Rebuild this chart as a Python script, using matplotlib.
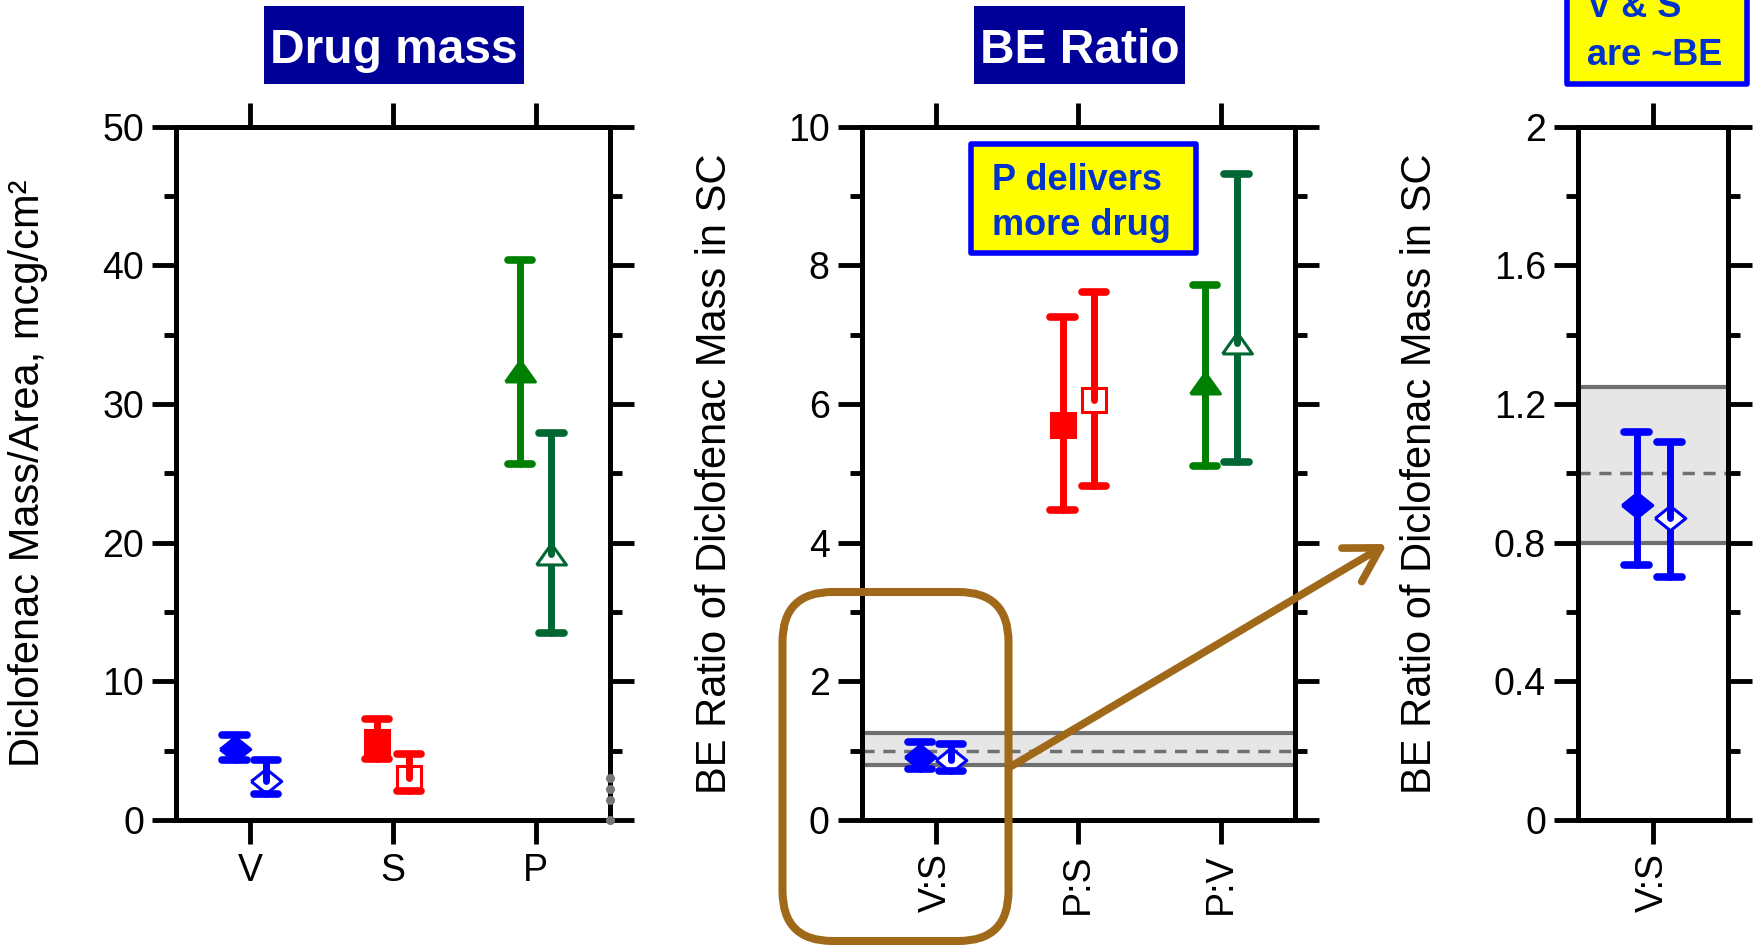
import numpy as np
import matplotlib
matplotlib.use("Agg")
import matplotlib.pyplot as plt
from matplotlib.patches import Rectangle, FancyBboxPatch, FancyArrowPatch
from matplotlib.ticker import MultipleLocator, FormatStrFormatter

plt.rcParams['font.family'] = ['Liberation Sans', 'DejaVu Sans']

# diclofenac mass per area (mcg/cm2): solid and open symbols, mean with lo/hi limits
mass_cats = ['V', 'S', 'P']
mass_solid = [5.1, 5.65, 32.4]
mass_solid_lo = [4.3, 4.4, 25.7]
mass_solid_hi = [6.1, 7.3, 40.4]
mass_open = [2.8, 3.0, 19.2]
mass_open_lo = [1.85, 2.1, 13.5]
mass_open_hi = [4.3, 4.75, 27.9]

# BE ratios of mass in SC
ratio_cats = ['V:S', 'P:S', 'P:V']
ratio_solid = [0.91, 5.70, 6.30]
ratio_solid_lo = [0.735, 4.47, 5.11]
ratio_solid_hi = [1.12, 7.25, 7.71]
ratio_open = [0.87, 6.06, 6.88]
ratio_open_lo = [0.70, 4.82, 5.16]
ratio_open_hi = [1.09, 7.61, 9.32]

be_low, be_mid, be_high = 0.8, 1.0, 1.25

solid_colors = ['#0000ff', '#ff0000', '#008000']
open_colors = ['#0000ff', '#ff0000', '#006633']

diamond = [(-1, 0), (0, 0.8), (1, 0), (0, -0.8), (-1, 0)]
triangle = [(-1, -0.7), (1, -0.7), (0, 0.7), (-1, -0.7)]
markers = [(diamond, 22), ('s', 17.5), (triangle, 21.5)]

grey_dots = [0, 1.45, 2.25, 3.05]

BROWN = '#a0691a'
NAVY = '#000099'
TXT_BLUE = '#0033cc'

W, H = 1759, 947
fig = plt.figure(figsize=(W / 100, H / 100), dpi=100)


def px_axes(x0, x1, ytop=126.7, ybot=820):
    return fig.add_axes([x0 / W, (H - ybot) / H, (x1 - x0) / W, (ybot - ytop) / H])


def draw_point(ax, x, y, lo, hi, color, marker, ms, filled):
    cap = 0.085
    # lower half of the bar goes under the symbol, upper half over it
    ax.plot([x, x], [lo, y], color=color, lw=5, solid_capstyle='round', zorder=3)
    ax.plot([x, x], [y, hi], color=color, lw=5, solid_capstyle='round', zorder=5)
    for v in (lo, hi):
        ax.plot([x - cap, x + cap], [v, v], color=color, lw=5.5,
                solid_capstyle='round', zorder=5)
    ax.plot([x], [y], ls='none', marker=marker, ms=ms, mec=color,
            mfc=color if filled else 'white', mew=2.2, zorder=4)


def style_axis(ax, top, major, minor, cats, rot, xlim):
    ax.set_xlim(*xlim)
    ax.set_ylim(0, top)
    ax.yaxis.set_major_locator(MultipleLocator(major))
    ax.yaxis.set_minor_locator(MultipleLocator(minor))
    ax.yaxis.set_major_formatter(FormatStrFormatter('%g'))
    ax.set_xticks(np.arange(1, len(cats) + 1))
    ax.set_xticklabels(cats, rotation=rot)
    ax.tick_params(which='both', direction='out', width=3.5, top=True, right=True,
                   labeltop=False, labelright=False, labelsize=27)
    ax.tick_params(which='major', length=17)
    ax.tick_params(which='minor', length=8.5)
    ax.tick_params(axis='y', pad=6)
    ax.tick_params(axis='x', pad=7)
    for s in ax.spines.values():
        s.set_linewidth(3.6)


def be_band(ax):
    ax.axhspan(be_low, be_high, color='#e6e6e6', zorder=0, lw=0)
    for v in (be_low, be_high):
        ax.axhline(v, color='#707070', lw=3, zorder=1)
    ax.axhline(be_mid, color='#707070', lw=2.5, dashes=(3.5, 2.5), zorder=1)


# --- panel 1: drug mass
ax1 = px_axes(176, 610)
style_axis(ax1, 50, 10, 5, mass_cats, 0, (0.48, 3.52))
for i in range(3):
    m, ms = markers[i]
    draw_point(ax1, i + 1 - 0.11, mass_solid[i], mass_solid_lo[i], mass_solid_hi[i],
               solid_colors[i], m, ms, True)
    draw_point(ax1, i + 1 + 0.11, mass_open[i], mass_open_lo[i], mass_open_hi[i],
               open_colors[i], m, ms, False)
ax1.plot(np.ones(len(grey_dots)), grey_dots, ls='none', marker='o', ms=5.5,
         color='#777777', transform=ax1.get_yaxis_transform(), clip_on=False, zorder=6)

# --- panel 2: BE ratio
ax2 = px_axes(861.5, 1295)
style_axis(ax2, 10, 2, 1, ratio_cats, 90, (0.48, 3.52))
be_band(ax2)
for i in range(3):
    m, ms = markers[i]
    draw_point(ax2, i + 1 - 0.11, ratio_solid[i], ratio_solid_lo[i], ratio_solid_hi[i],
               solid_colors[i], m, ms, True)
    draw_point(ax2, i + 1 + 0.11, ratio_open[i], ratio_open_lo[i], ratio_open_hi[i],
               open_colors[i], m, ms, False)

# --- panel 3: V:S close up
ax3 = px_axes(1578, 1728)
style_axis(ax3, 2, 0.4, 0.2, ratio_cats[:1], 90, (0.5, 1.5))
be_band(ax3)
m, ms = markers[0]
draw_point(ax3, 1 - 0.11, ratio_solid[0], ratio_solid_lo[0], ratio_solid_hi[0],
           solid_colors[0], m, ms, True)
draw_point(ax3, 1 + 0.11, ratio_open[0], ratio_open_lo[0], ratio_open_hi[0],
           open_colors[0], m, ms, False)

# y labels
ylab_y = 1 - 473.5 / H
fig.text(28 / W, ylab_y, 'Diclofenac Mass/Area, mcg/cm\u00b2', rotation=90,
         ha='center', va='center', fontsize=30)
for xc in (715, 1420):
    fig.text(xc / W, ylab_y, 'BE Ratio of Diclofenac Mass in SC', rotation=90,
             ha='center', va='center', fontsize=30)


def px_rect(x0, y0, x1, y1, **kw):
    # pixel box (top-down) drawn in figure inches
    r = Rectangle((x0 / 100, (H - y1) / 100), (x1 - x0) / 100, (y1 - y0) / 100,
                  transform=fig.dpi_scale_trans, **kw)
    fig.add_artist(r)
    return r


def px_text(x, y, s, **kw):
    fig.text(x / W, 1 - y / H, s, **kw)


# title boxes
px_rect(264, 6, 524, 84, facecolor=NAVY, edgecolor='none')
px_text(394, 63, 'Drug mass', ha='center', va='baseline', color='white',
        fontsize=34.5, fontweight='bold')
px_rect(974, 6, 1185, 84, facecolor=NAVY, edgecolor='none')
px_text(1079.5, 63, 'BE Ratio', ha='center', va='baseline', color='white',
        fontsize=34.5, fontweight='bold')

# callouts
px_rect(971, 144, 1196, 253, facecolor='#ffff00', edgecolor='#0000ff', lw=4,
        joinstyle='round')
px_text(992, 190, 'P delivers', ha='left', va='baseline', color=TXT_BLUE,
        fontsize=26, fontweight='bold')
px_text(992, 235, 'more drug', ha='left', va='baseline', color=TXT_BLUE,
        fontsize=26, fontweight='bold')

px_rect(1567, -40, 1747, 84, facecolor='#ffff00', edgecolor='#0000ff', lw=4,
        joinstyle='round')
px_text(1587, 17, 'V & S', ha='left', va='baseline', color=TXT_BLUE,
        fontsize=26, fontweight='bold')
px_text(1587, 65, 'are ~BE', ha='left', va='baseline', color=TXT_BLUE,
        fontsize=26, fontweight='bold')

# zoom frame and arrow
frame = FancyBboxPatch((782.5 / 100, (H - 941) / 100), (1008.5 - 782.5) / 100,
                       (941 - 592) / 100, boxstyle='round,pad=0,rounding_size=0.5',
                       transform=fig.dpi_scale_trans, facecolor='none',
                       edgecolor=BROWN, lw=5.8)
fig.add_artist(frame)
arrow = FancyArrowPatch((1010 / 100, (H - 767) / 100), (1387 / 100, (H - 544) / 100),
                        transform=fig.dpi_scale_trans,
                        arrowstyle='->,head_length=0.6,head_width=0.35',
                        mutation_scale=40, lw=5.5, color=BROWN,
                        capstyle='round', joinstyle='round', shrinkA=0, shrinkB=0)
fig.add_artist(arrow)

fig.savefig('out.png', dpi=100)
